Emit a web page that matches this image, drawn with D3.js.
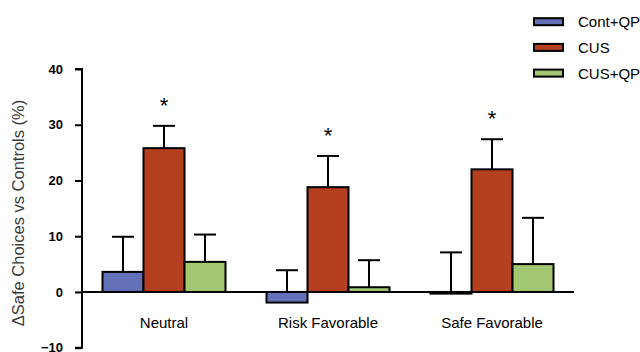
<!DOCTYPE html>
<html><head><meta charset="utf-8">
<script src="https://cdn.jsdelivr.net/npm/d3@7"></script>
<style>body{margin:0;background:#fff}svg{display:block}</style>
</head><body>
<svg id="c" width="640" height="352"></svg>
<script>
const categories = ["Neutral", "Risk Favorable", "Safe Favorable"];
const seriesNames = ["Cont+QP", "CUS", "CUS+QP"];
const seriesColors = ["#6271b8", "#b5401f", "#a3c670"];
const means = {
  "Cont+QP": [3.6, -1.9, -0.3],
  "CUS": [25.8, 18.8, 22.0],
  "CUS+QP": [5.4, 0.85, 5.0]
};
const errTops = {
  "Cont+QP": [9.9, 3.9, 7.1],
  "CUS": [29.8, 24.4, 27.4],
  "CUS+QP": [10.3, 5.7, 13.3]
};
const significant = [true, true, true];
const yTicks = [40, 30, 20, 10, 0, -10];

const FONT = "Liberation Sans, Arial, Helvetica, sans-serif";
const svg = d3.select("#c");
const x0 = 82, x1 = 574;
const y = d3.scaleLinear().domain([-10, 40]).range([347.7, 69]);
const xg = d3.scaleBand().domain(categories).range([x0, x1]).padding(0);
const barW = 41;
const xs = d3.scaleBand().domain(seriesNames).range([0, barW * 3]);

// y axis
const yAxis = d3.axisLeft(y).tickValues(yTicks).tickSize(7).tickPadding(12).tickFormat(d3.format("d"));
const ga = svg.append("g").attr("transform", `translate(${x0},0)`).call(yAxis);
ga.select(".domain").attr("stroke", "#000").attr("stroke-width", 2).attr("d", `M-7,${y(40)}H0V${y(-10)}H-7`);
ga.selectAll(".tick line").attr("stroke", "#000").attr("stroke-width", 2);
ga.selectAll(".tick text").attr("font-family", FONT)
  .attr("font-size", 13).attr("font-weight", "bold").attr("fill", "#000");

// y label
svg.append("text").attr("transform", `translate(24,213) rotate(-90)`)
  .attr("text-anchor", "middle").attr("font-family", FONT)
  .attr("font-size", 16.5).attr("fill", "#3a3a3a").text("\u0394Safe Choices vs Controls (%)");

// bars
categories.forEach((cat, ci) => {
  const gx = xg(cat) + (xg.bandwidth() - barW * 3) / 2;
  seriesNames.forEach((s, si) => {
    const v = means[s][ci];
    const bx = gx + xs(s);
    svg.append("line").attr("x1", bx + barW / 2).attr("x2", bx + barW / 2)
      .attr("y1", y(Math.max(v, 0))).attr("y2", y(errTops[s][ci]))
      .attr("stroke", "#000").attr("stroke-width", 2);
    svg.append("line").attr("x1", bx + barW / 2 - 11).attr("x2", bx + barW / 2 + 11)
      .attr("y1", y(errTops[s][ci])).attr("y2", y(errTops[s][ci]))
      .attr("stroke", "#000").attr("stroke-width", 2);
    svg.append("rect").attr("x", bx).attr("width", barW)
      .attr("y", y(Math.max(v, 0))).attr("height", Math.abs(y(v) - y(0)))
      .attr("fill", seriesColors[si]).attr("stroke", "#000").attr("stroke-width", 2);
  });
  if (significant[ci]) {
    const top = errTops["CUS"][ci];
    svg.append("text").attr("x", gx + xs("CUS") + barW / 2).attr("y", y(top) - 13)
      .attr("text-anchor", "middle").attr("font-family", FONT)
      .attr("font-size", 22).attr("fill", "#000").text("*");
  }
  svg.append("text").attr("x", xg(cat) + xg.bandwidth() / 2).attr("y", 327.5)
    .attr("text-anchor", "middle").attr("font-family", FONT)
    .attr("font-size", 15).attr("fill", "#000").text(cat);
});

// zero line
svg.append("line").attr("x1", x0).attr("x2", x1).attr("y1", y(0)).attr("y2", y(0))
  .attr("stroke", "#000").attr("stroke-width", 2);

// legend
seriesNames.forEach((s, i) => {
  const ly = 21.7 + i * 25.7;
  svg.append("rect").attr("x", 534).attr("y", ly - 3.5).attr("width", 29).attr("height", 7)
    .attr("fill", seriesColors[i]).attr("stroke", "#000").attr("stroke-width", 2);
  svg.append("text").attr("x", 578).attr("y", ly + 5.5).attr("font-family", FONT)
    .attr("font-size", 15).attr("fill", "#000").text(s);
});
</script>
</body></html>
